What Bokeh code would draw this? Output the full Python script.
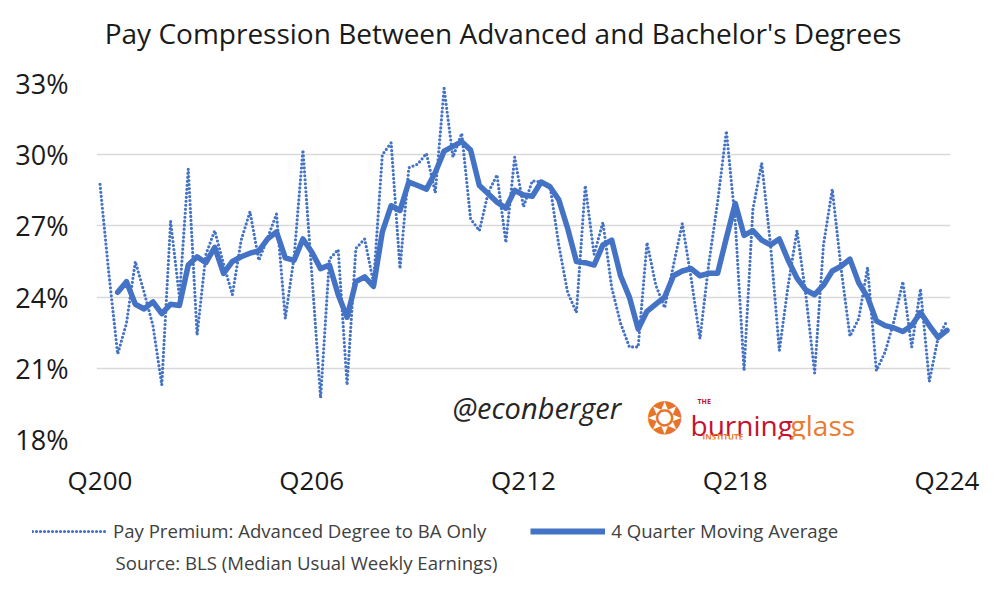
from bokeh.plotting import figure
from bokeh.layouts import column
from bokeh.models import (ColumnDataSource, FixedTicker, Label, Legend, LegendItem, Range1d)
from bokeh.embed import file_html
from bokeh.resources import INLINE

# ---------------- data ----------------
quarter_index = list(range(97))  # Q1 2000 ... Q1 2024

pay_premium = [
    28.75, 25.0, 21.6, 22.9, 25.5, 24.2, 22.8, 20.3, 27.2, 24.0,
    29.4, 22.4, 25.8, 26.8, 25.4, 24.1, 26.4, 27.6, 25.55, 26.5,
    27.5, 23.1, 25.7, 30.2, 25.0, 19.75, 25.6, 26.0, 20.3, 26.05,
    26.45, 24.6, 30.0, 30.5, 25.2, 29.45, 29.6, 30.05, 28.4, 32.8,
    29.9, 30.9, 27.3, 26.8, 28.4, 29.15, 26.3, 29.9, 27.8, 28.9,
    28.85, 28.7, 26.2, 24.2, 23.35, 28.7, 25.8, 27.15, 24.4, 22.9,
    21.9, 21.9, 26.3, 24.5, 23.55, 25.35, 27.1, 24.8, 22.25, 25.4,
    28.0, 31.0, 27.2, 20.9, 27.7, 29.65, 26.2, 21.75, 24.5, 26.8,
    24.1, 20.8, 26.2, 28.55, 25.2, 22.35, 23.1, 25.25, 20.9, 21.7,
    23.0, 24.65, 21.9, 24.35, 20.45, 22.3, 23.0,
]

moving_average = [
    float("nan"), float("nan"), 24.2, 24.65, 23.7, 23.5, 23.8, 23.3, 23.7, 23.65,
    25.35, 25.7, 25.45, 26.1, 25.0, 25.5, 25.7, 25.85, 25.95, 26.45,
    26.75, 25.65, 25.55, 26.45, 25.9, 25.2, 25.35, 24.1, 23.15, 24.65,
    24.85, 24.45, 26.75, 27.85, 27.65, 28.85, 28.7, 28.55, 29.25, 30.15,
    30.35, 30.55, 30.2, 28.7, 28.35, 28.0, 27.75, 28.5, 28.3, 28.25,
    28.85, 28.65, 28.1, 26.9, 25.5, 25.45, 25.35, 26.2, 26.4, 24.9,
    24.0, 22.65, 23.4, 23.7, 24.0, 24.9, 25.1, 25.2, 24.9, 25.0,
    25.0, 26.5, 27.95, 26.6, 26.8, 26.4, 26.2, 26.45, 25.55, 24.8,
    24.3, 24.1, 24.5, 25.1, 25.3, 25.6, 24.6, 24.0, 23.0, 22.8,
    22.7, 22.55, 22.8, 23.35, 22.8, 22.3, 22.6,
]

x_tick_positions = [0, 24, 48, 72, 96]
x_tick_labels = ["Q200", "Q206", "Q212", "Q218", "Q224"]
y_tick_values = [18, 21, 24, 27, 30, 33]
y_tick_labels = ["18%", "21%", "24%", "27%", "30%", "33%"]

series_names = ["Pay Premium: Advanced Degree to BA Only", "4 Quarter Moving Average"]
title_text = "Pay Compression Between Advanced and Bachelor's Degrees"
source_text = "Source: BLS (Median Usual Weekly Earnings)"

FONT = "Open Sans"
BLUE = "#4472C4"
W = 996


def strip(height):
    """A plain full-canvas figure whose data units are pixels."""
    f = figure(width=W, height=height, output_backend="svg", toolbar_location=None,
               x_range=Range1d(0, W), y_range=Range1d(0, height),
               x_axis_location=None, y_axis_location=None)
    f.frame_align = False
    f.min_border_left = f.min_border_right = f.min_border_top = f.min_border_bottom = 0
    f.grid.visible = False
    f.outline_line_color = None
    f.border_fill_color = "white"
    f.background_fill_color = "white"
    return f


# ---------------- title strip ----------------
H0 = 60
t = strip(H0)
t.add_layout(Label(x=502.5, y=H0 - 32, text=title_text, text_align="center",
                   text_baseline="middle", text_font=FONT, text_font_size="28px",
                   text_color="#1a1a1a"))

# ---------------- main chart ----------------
H1 = 440
source = ColumnDataSource(dict(q=quarter_index, prem=pay_premium, ma=moving_average))

p = figure(width=W, height=H1, output_backend="svg", toolbar_location=None,
           x_range=Range1d(-0.4, 96.4), y_range=Range1d(18, 33))
p.frame_align = False
p.min_border_left = 96
p.min_border_right = W - 96 - 854
p.min_border_top = 83 - H0
p.min_border_bottom = H1 - (83 - H0) - 361
p.outline_line_color = None
p.background_fill_color = "white"
p.border_fill_color = "white"

p.xaxis.ticker = FixedTicker(ticks=x_tick_positions)
p.xaxis.major_label_overrides = {t_: l for t_, l in zip(x_tick_positions, x_tick_labels)}
p.yaxis.ticker = FixedTicker(ticks=y_tick_values)
p.yaxis.major_label_overrides = {t_: l for t_, l in zip(y_tick_values, y_tick_labels)}
for ax in (p.xaxis[0], p.yaxis[0]):
    ax.axis_line_color = None
    ax.major_tick_line_color = None
    ax.minor_tick_line_color = None
    ax.major_label_text_font = FONT
    ax.major_label_text_color = "#1a1a1a"
p.xaxis.major_label_text_font_size = "26px"
p.yaxis.major_label_text_font_size = "27px"
p.yaxis.major_label_standoff = 22
p.xaxis.major_label_standoff = 16

p.xgrid.grid_line_color = None
p.ygrid.ticker = FixedTicker(ticks=y_tick_values)
p.ygrid.grid_line_color = "#d9d9d9"
p.ygrid.grid_line_width = 1.5

r1 = p.line("q", "prem", source=source, line_color=BLUE, line_width=3.2,
            line_dash="0 4", line_cap="round", line_join="round")
r2 = p.line("q", "ma", source=source, line_color=BLUE, line_width=5.5,
            line_join="round", line_cap="round")

# watermark texts inside the plotting area (placed through the plot's scales)
p.add_layout(Label(x=39.95, y=19.33, text="@econberger", text_align="left",
                   text_baseline="middle", text_font=FONT,
                   text_font_style="italic", text_font_size="29px",
                   text_color="#262626"))
p.add_layout(Label(x=64.0, y=18.87, text="\u2742", text_align="center",
                   text_baseline="middle", text_font="DejaVu Sans",
                   text_font_size="44px", text_color="#E8742A"))
p.add_layout(Label(x=67.73, y=19.62, text="THE", text_align="left",
                   text_baseline="middle", text_font=FONT,
                   text_font_size="7px", text_font_style="bold", text_color="#C4122F"))
p.add_layout(Label(x=66.93, y=18.62, text="burning", text_align="left",
                   text_baseline="alphabetic", text_font=FONT,
                   text_font_size="28px", text_color="#C4122F"))
p.add_layout(Label(x=78.27, y=18.62, text="glass", text_align="left",
                   text_baseline="alphabetic", text_font=FONT,
                   text_font_size="28px", text_color="#E97B2E"))
p.add_layout(Label(x=68.3, y=18.14, text="INSTITUTE", text_align="left",
                   text_baseline="middle", text_font=FONT,
                   text_font_size="8px", text_font_style="bold", text_color="#E97B2E"))

# ---------------- legend / source strip ----------------
H2 = 80
q = strip(H2)

# legend-only renderers (no visible data)
empty = ColumnDataSource(dict(x=[float("nan")], y=[float("nan")]))
k1 = q.line("x", "y", source=empty, line_color=BLUE, line_width=3.2,
            line_dash="0 4", line_cap="round")
k2 = q.line("x", "y", source=empty, line_color=BLUE, line_width=6, line_cap="butt")

legend = Legend(items=[LegendItem(label=series_names[0], renderers=[k1]),
                       LegendItem(label=series_names[1], renderers=[k2])],
                orientation="horizontal", location=(32, 37),
                glyph_width=75, glyph_height=20, label_standoff=6, spacing=44,
                padding=0, margin=0, border_line_color=None, background_fill_alpha=0,
                label_text_font=FONT, label_text_font_size="18.6px",
                label_text_color="#404040")
q.add_layout(legend)
q.add_layout(Label(x=115, y=18, text=source_text, text_align="left",
                   text_baseline="middle", text_font=FONT,
                   text_font_size="18.6px", text_color="#404040"))

layout = column(t, p, q, spacing=0)
open("out.html", "w").write(file_html(layout, INLINE))
